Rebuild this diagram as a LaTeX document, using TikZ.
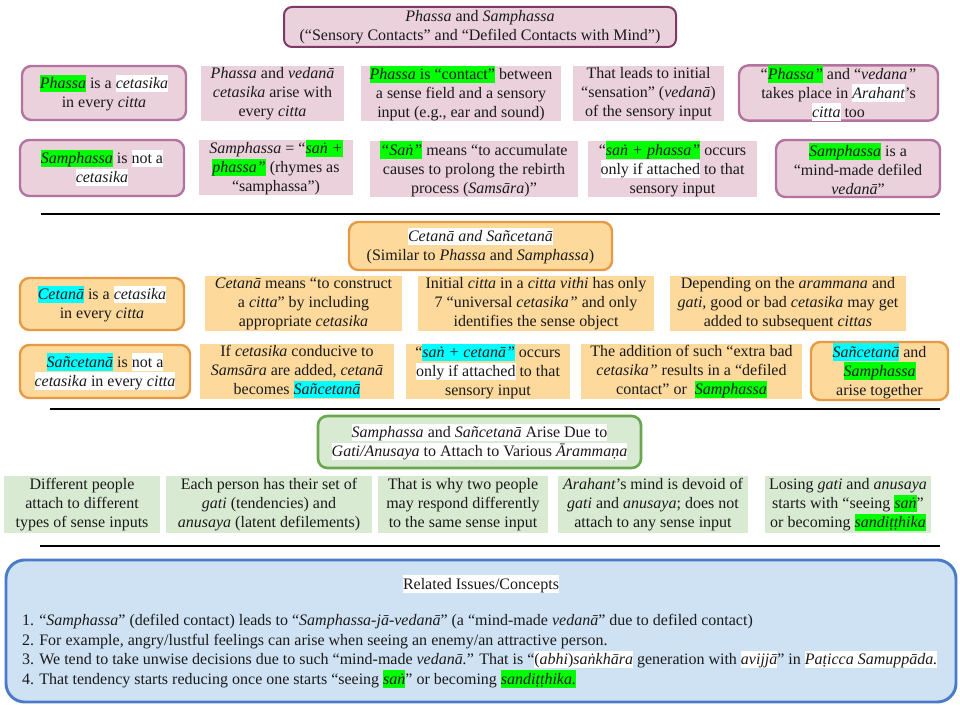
\documentclass[tikz,border=0pt]{standalone}
\usepackage{fontspec}
\setmainfont{LiberationSerif}[Extension=.ttf, UprightFont=*-Regular, ItalicFont=*-Italic, BoldFont=*-Bold, BoldItalicFont=*-BoldItalic]
\usetikzlibrary{positioning}
\definecolor{pinkfill}{HTML}{EAD1DC}
\definecolor{pinkborder}{HTML}{B2739F}
\definecolor{titleborder}{HTML}{7E3A66}
\definecolor{orfill}{HTML}{FDDA9C}
\definecolor{orborder}{HTML}{E69A46}
\definecolor{gfill}{HTML}{D9EAD3}
\definecolor{gborder}{HTML}{6AA84F}
\definecolor{bfill}{HTML}{CFE2F3}
\definecolor{bborder}{HTML}{4A7BC8}
\definecolor{hlgreen}{HTML}{00FF00}
\definecolor{hlcyan}{HTML}{00FFFF}
\definecolor{txt}{HTML}{1A1A1A}
\newcommand\hl[2]{{\setlength{\fboxsep}{0pt}\colorbox{#1}{\vphantom{Ág}#2}}}
\newcommand\hlg[1]{\hl{hlgreen}{#1}}
\newcommand\hlc[1]{\hl{hlcyan}{#1}}
\newcommand\hlw[1]{\hl{white}{#1}}
\newcommand\bx[7]{\node[#2, minimum width={(#5-#3)*0.75}, minimum height={(#6-#4)*0.75}] (#1) at ({(#3+#5)/2},{(#4+#6)/2}) {#7};}
\tikzset{
  base/.style={inner sep=0pt, outer sep=0pt, align=center, text=txt,
    font=\fontsize{12}{14.25}\selectfont},
  pplain/.style={base, fill=pinkfill},
  pround/.style={base, fill=pinkfill, draw=pinkborder, line width=1.8pt, rounded corners=7pt},
  ptitle/.style={base, fill=pinkfill, draw=titleborder, line width=1.5pt, rounded corners=6pt},
  oplain/.style={base, fill=orfill},
  oround/.style={base, fill=orfill, draw=orborder, line width=1.8pt, rounded corners=7pt},
  gplain/.style={base, fill=gfill},
  ground/.style={base, fill=gfill, draw=gborder, line width=2pt, rounded corners=7pt},
  bround/.style={base, fill=bfill, draw=bborder, line width=2.2pt, rounded corners=14pt},
  sep/.style={line width=0.8pt, draw=black},
}
\begin{document}
\begin{tikzpicture}[x=0.75pt,y=-0.75pt]
\useasboundingbox[fill=white] (0,0) rectangle (960,720);
% ---- Section 1
\bx{t1}{ptitle}{284}{7}{676}{47}{\textit{Phassa} and \textit{Samphassa}\\(“Sensory Contacts” and “Defiled Contacts with Mind”)}
\bx{a1}{pround}{22}{66}{186}{120}{\hlg{\textit{Phassa}} is a \hlw{\textit{cetasika}}\\in every \textit{citta}}
\bx{a2}{pplain}{201}{66}{344}{121}{\textit{Phassa} and \textit{vedanā}\\\textit{cetasika} arise with\\every \textit{citta}}
\bx{a3}{pplain}{361}{66}{561}{121}{\hlg{\textit{Phassa} is “contact”} between\\a sense field and a sensory\\input (e.g., ear and sound)}
\bx{a4}{pplain}{573}{66}{724}{121}{That leads to initial\\“sensation” (\textit{vedanā})\\of the sensory input}
\bx{a5}{pround}{739}{66}{938}{120}{“\hlg{\textit{Phassa”}} and “\textit{vedana”}\\takes place in \hlw{\textit{Arahant}}’s\\\hlw{\textit{citta}} too}
\bx{b1}{pround}{20}{140}{184}{196}{\hlg{\textit{Samphassa}} is \hlw{not a}\\\hlw{\textit{cetasika}}}
\bx{b2}{pplain}{199}{140}{353}{195}{\textit{Samphassa} = “\hlg{\textit{saṅ +}}\\\hlg{\textit{phassa”}} (rhymes as\\“samphassa”)}
\bx{b3}{pplain}{370}{142}{578}{196}{\hlg{\textit{“Saṅ”}} means “to accumulate\\causes to prolong the rebirth\\process (\textit{Samsāra})”}
\bx{b4}{pplain}{588}{142}{757}{196}{“\hlg{\textit{saṅ + phassa”}} occurs\\\hlw{only if attached} to that\\sensory input}
\bx{b5}{pround}{776}{140}{940}{197}{\hlg{\textit{Samphassa}} is a\\“mind-made defiled\\\textit{vedanā}”}
\coordinate (s1a) at (41,214); \coordinate (s1b) at (940,214);
\draw[sep] (s1a) -- (s1b);
% ---- Section 2
\bx{t2}{oround}{349}{222}{612}{270}{\hlw{\textit{Cetanā and Sañcetanā}}\\(Similar to \textit{Phassa} and \textit{Samphassa})}
\bx{c1}{oround}{20}{278}{184}{330}{\hlc{\textit{Cetanā}} is a \hlw{\textit{cetasika}}\\in every \textit{citta}}
\bx{c2}{oplain}{205}{276}{402}{331}{\textit{Cetanā} means “to construct\\a \textit{citta}” by including\\appropriate \textit{cetasika}}
\bx{c3}{oplain}{418}{276}{654}{331}{Initial \textit{citta} in a \textit{citta vithi} has only\\7 “universal \textit{cetasika”} and only\\identifies the sense object}
\bx{c4}{oplain}{670}{276}{906}{331}{Depending on the \textit{arammana} and\\\textit{gati,} good or bad \textit{cetasika} may get\\added to subsequent \textit{cittas}}
\bx{d1}{oround}{20}{345}{190}{398}{\hlc{\textit{Sañcetanā}} is \hlw{not a}\\\hlw{\textit{cetasika} in every \textit{citta}}}
\bx{d2}{oplain}{200}{344}{394}{399}{If \textit{cetasika} conducive to\\\textit{Samsāra} are added, \textit{cetanā}\\becomes \hlc{\textit{Sañcetanā}}}
\bx{d3}{oplain}{406}{344}{570}{399}{“\hlc{\textit{saṅ + cetanā”}} occurs\\\hlw{only if attached} to that\\sensory input}
\bx{d4}{oplain}{581}{344}{802}{399}{The addition of such “extra bad\\\textit{cetasika”} results in a “defiled\\contact” or \ \hlg{\textit{Samphassa}}}
\bx{d5}{oround}{811}{342}{948}{400}{\hlc{\textit{Sañcetanā}} and\\\hlg{\textit{Samphassa}}\\arise together}
\coordinate (s2a) at (50,409); \coordinate (s2b) at (940,409);
\draw[sep] (s2a) -- (s2b);
% ---- Section 3
\bx{t3}{ground}{318}{416}{641}{468}{\hlw{\textit{Samphassa} and \textit{Sañcetanā} Arise Due to}\\\hlw{\textit{Gati/Anusaya} to Attach to Various \textit{Ārammaṇa}}}
\bx{e1}{gplain}{4}{476}{160}{533}{Different people\\attach to different\\types of sense inputs}
\bx{e2}{gplain}{166}{476}{372}{533}{Each person has their set of\\\textit{gati} (tendencies) and\\\textit{anusaya} (latent defilements)}
\bx{e3}{gplain}{378}{476}{548}{533}{That is why two people\\may respond differently\\to the same sense input}
\bx{e4}{gplain}{558}{476}{748}{533}{\textit{Arahant}’s mind is devoid of\\\textit{gati} and \textit{anusaya}; does not\\attach to any sense input}
\bx{e5}{gplain}{765}{476}{931}{533}{Losing \textit{gati} and \textit{anusaya}\\starts with “seeing \hlg{\textit{saṅ}}”\\or becoming \hlg{\textit{sandiṭṭhika}}}
\coordinate (s3a) at (40,546); \coordinate (s3b) at (940,546);
\draw[sep] (s3a) -- (s3b);
% ---- Related issues
\bx{rel}{bround}{6}{560}{956}{702}{}
\node[base] (relt) at (481,584) {\hlw{Related Issues/Concepts}};
\node[base, anchor=west, align=left, font=\fontsize{12}{14.6}\selectfont] (rell) at (22,651) {%
1. “\textit{Samphassa}” (defiled contact) leads to “\textit{Samphassa-jā-vedanā}” (a “mind-made \textit{vedanā}” due to defiled contact)\\
2. For example, angry/lustful feelings can arise when seeing an enemy/an attractive person.\\
3. We tend to take unwise decisions due to such “mind-made \textit{vedanā.}” That is “\hlw{(\textit{abhi})\textit{saṅkhāra}} generation with \hlw{\textit{avijjā}}” in \hlw{\textit{Paṭicca Samuppāda.}}\\
4. That tendency starts reducing once one starts “seeing \hlg{\textit{saṅ}}” or becoming \hlg{\textit{sandiṭṭhika.}}};
\end{tikzpicture}
\end{document}
